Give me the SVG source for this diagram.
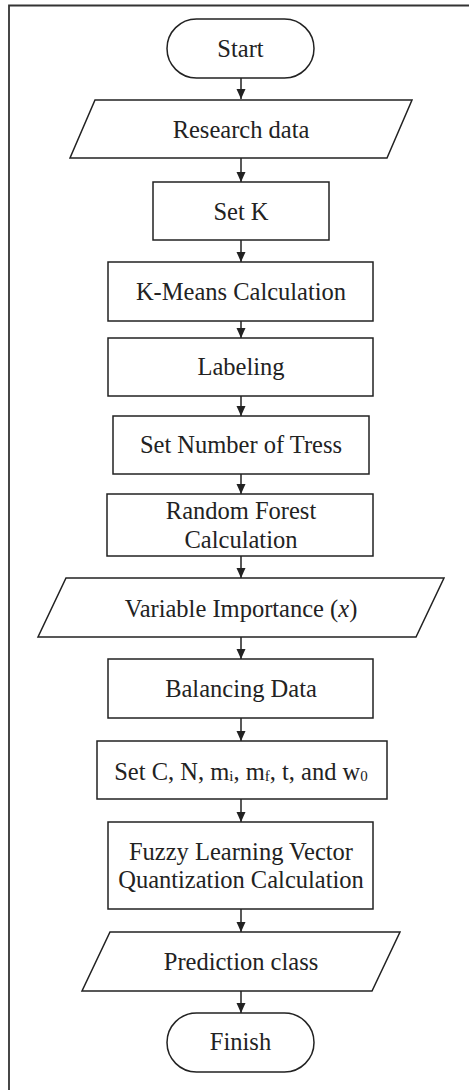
<svg xmlns="http://www.w3.org/2000/svg" width="469" height="1090" viewBox="0 0 469 1090">
<style>
.s{fill:#fff;stroke:#222;stroke-width:1.5}
.t{font-family:"Liberation Serif","Times New Roman",serif;font-size:24.5px;fill:#222;text-anchor:middle;dominant-baseline:central}
.c{stroke:#222;stroke-width:1.5;fill:none}
</style>
<defs>
<marker id="ah" viewBox="0 0 10 10" refX="10" refY="5" markerWidth="10" markerHeight="10" markerUnits="userSpaceOnUse" orient="auto">
<path d="M0,0.5 L10,5 L0,9.5 Z" fill="#222"/>
</marker>
</defs>
<rect width="469" height="1090" fill="#fff"/>
<g id="frame"><path d="M9,1090 V5.5 H469" fill="none" stroke="#333" stroke-width="1.8"/></g>
<g id="connectors">
<line class="c" x1="241" y1="78" x2="241" y2="99" marker-end="url(#ah)"/>
<line class="c" x1="241" y1="158" x2="241" y2="182" marker-end="url(#ah)"/>
<line class="c" x1="241" y1="240" x2="241" y2="262" marker-end="url(#ah)"/>
<line class="c" x1="241" y1="321" x2="241" y2="338" marker-end="url(#ah)"/>
<line class="c" x1="241" y1="396" x2="241" y2="416" marker-end="url(#ah)"/>
<line class="c" x1="241" y1="474" x2="241" y2="494" marker-end="url(#ah)"/>
<line class="c" x1="241" y1="556" x2="241" y2="578" marker-end="url(#ah)"/>
<line class="c" x1="241" y1="637" x2="241" y2="659" marker-end="url(#ah)"/>
<line class="c" x1="241" y1="718" x2="241" y2="741" marker-end="url(#ah)"/>
<line class="c" x1="241" y1="799" x2="241" y2="822" marker-end="url(#ah)"/>
<line class="c" x1="241" y1="909" x2="241" y2="932" marker-end="url(#ah)"/>
<line class="c" x1="241" y1="991" x2="241" y2="1013" marker-end="url(#ah)"/>
</g>
<g id="start"><rect class="s" x="167" y="19" width="147" height="59" rx="29.5"/><text class="t" x="240.5" y="48">Start</text></g>
<g id="research"><polygon class="s" points="95,100 412,100 387,158 70,158"/><text class="t" x="241" y="129">Research data</text></g>
<g id="setk"><rect class="s" x="153" y="182" width="176" height="58"/><text class="t" x="241" y="211">Set K</text></g>
<g id="kmeans"><rect class="s" x="108" y="262" width="265" height="59"/><text class="t" x="241" y="291">K-Means Calculation</text></g>
<g id="labeling"><rect class="s" x="108" y="338" width="265" height="58"/><text class="t" x="241" y="366">Labeling</text></g>
<g id="settrees"><rect class="s" x="113" y="416" width="256" height="58"/><text class="t" x="241" y="444">Set Number of Tress</text></g>
<g id="rf"><rect class="s" x="107" y="494" width="266" height="62"/><text class="t" x="241" y="510">Random Forest</text><text class="t" x="241" y="539">Calculation</text></g>
<g id="varimp"><polygon class="s" points="66,578 444,578 416,637 38,637"/><text class="t" x="241" y="608">Variable Importance (<tspan font-style="italic">x</tspan>)</text></g>
<g id="balancing"><rect class="s" x="108" y="659" width="265" height="59"/><text class="t" x="241" y="688">Balancing Data</text></g>
<g id="setc"><rect class="s" x="97" y="741" width="290" height="58"/><text class="t" x="241" y="771">Set C, N, m<tspan font-size="15" dy="5">i</tspan><tspan dy="-5">, m</tspan><tspan font-size="15" dy="5">f</tspan><tspan dy="-5">, t, and w</tspan><tspan font-size="15" dy="5">0</tspan></text></g>
<g id="flvq"><rect class="s" x="108" y="822" width="265" height="87"/><text class="t" x="241" y="851">Fuzzy Learning Vector</text><text class="t" x="241" y="879">Quantization Calculation</text></g>
<g id="prediction"><polygon class="s" points="110,932 400,932 372,991 82,991"/><text class="t" x="241" y="961">Prediction class</text></g>
<g id="finish"><rect class="s" x="167" y="1013" width="147" height="59" rx="29.5"/><text class="t" x="240.5" y="1041">Finish</text></g>
</svg>
